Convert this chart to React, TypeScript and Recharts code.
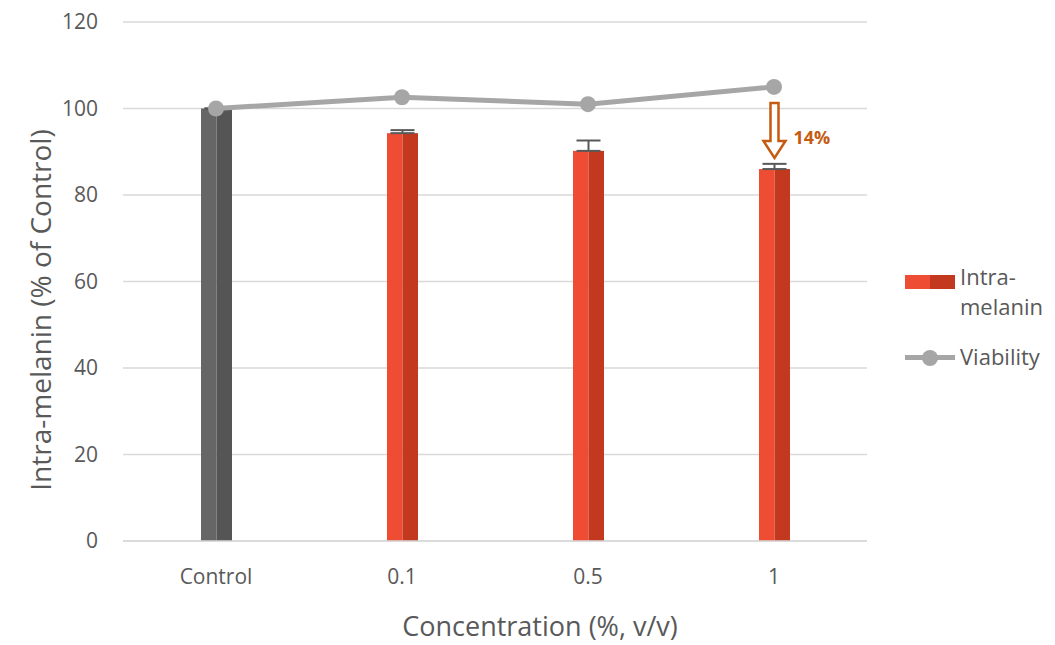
import {
    ComposedChart,
    Bar,
    Line,
    XAxis,
    YAxis,
    CartesianGrid,
    Legend,
    ErrorBar,
    LabelList,
} from "recharts";

// categories and values
const categories = ["Control", "0.1", "0.5", "1"];
const melanin = [100, 94.3, 90.2, 86.0];
const melaninErr = [0, 0.7, 2.4, 1.2];
const viability = [100, 102.6, 101.0, 105.0];
const notes = ["", "", "", "14%"];
const yTicks = [0, 20, 40, 60, 80, 100, 120];

const data = categories.map((name, i) => ({
    name,
    melanin: melanin[i],
    // only the upper whisker shows above the bar
    err: [0, melaninErr[i]],
    viability: viability[i],
    note: notes[i],
}));

const FONT = "'Open Sans', 'Noto Sans', sans-serif";
const TEXT = "#595959";
const ORANGE = "#c55a11";

// two-tone bar: light left half, darker right half
const TwoToneBar = (props: any) => {
    const { x, y, width, height, payload } = props;
    if (!height || height <= 0) return null;
    const isControl = payload && payload.name === "Control";
    const left = isControl ? "#666666" : "#ee4c33";
    const right = isControl ? "#555555" : "#c3391f";
    const half = width / 2;
    return (
        <g>
            <rect x={x} y={y} width={half} height={height} fill={left} />
            <rect x={x + half} y={y} width={width - half} height={height} fill={right} />
        </g>
    );
};

// hollow down arrow with percentage above the last bar
const ArrowNote = (props: any) => {
    const { x, y, width, value } = props;
    if (!value) return null;
    const cx = x + width / 2;
    const top = y - 66;
    const neck = y - 28;
    const tip = y - 11;
    const path = `M ${cx - 4} ${top} L ${cx + 4} ${top} L ${cx + 4} ${neck} L ${cx + 11} ${neck} L ${cx} ${tip} L ${cx - 11} ${neck} L ${cx - 4} ${neck} Z`;
    return (
        <g>
            <path d={path} fill="#ffffff" stroke={ORANGE} strokeWidth={2.5} strokeLinejoin="miter" />
            <text x={cx + 19} y={y - 25} fill={ORANGE} fontSize={18} fontWeight={700} fontFamily={FONT}>
                {value}
            </text>
        </g>
    );
};

const LegendBox = () => (
    <div style={{ fontFamily: FONT, color: TEXT, fontSize: 22, position: "relative", width: 150, height: 110 }}>
        <div style={{ position: "absolute", left: 0, top: 0, display: "flex" }}>
            <div style={{ width: 25, height: 14, background: "#ee4c33" }} />
            <div style={{ width: 25, height: 14, background: "#c3391f" }} />
        </div>
        <div style={{ position: "absolute", left: 55, top: -14, lineHeight: "30px" }}>
            Intra-
            <br />
            melanin
        </div>
        <div style={{ position: "absolute", left: 0, top: 80, width: 50, height: 5, background: "#a6a6a6" }} />
        <div
            style={{
                position: "absolute",
                left: 17,
                top: 74.5,
                width: 16,
                height: 16,
                borderRadius: 8,
                background: "#a6a6a6",
            }}
        />
        <div style={{ position: "absolute", left: 55, top: 66 }}>Viability</div>
    </div>
);

const YTitle = () => (
    <text
        x={40}
        y={310}
        transform="rotate(-90 40 310)"
        textAnchor="middle"
        dominantBaseline="central"
        fill={TEXT}
        fontSize={28}
        fontFamily={FONT}
    >
        Intra-melanin (% of Control)
    </text>
);

const XTitle = () => (
    <text x={540} y={625} textAnchor="middle" dominantBaseline="central" fill={TEXT} fontSize={27} fontFamily={FONT}>
        Concentration (%, v/v)
    </text>
);

export default function App() {
    return (
        <div style={{ position: "absolute", left: 0, top: 0, width: 1055, height: 645, background: "#fff" }}>
            <ComposedChart
                width={1055}
                height={645}
                data={data}
                margin={{ top: 22, right: 188, bottom: 34, left: 0 }}
                barSize={31}
            >
                <CartesianGrid vertical={false} stroke="#d9d9d9" strokeWidth={1.5} />
                <XAxis
                    dataKey="name"
                    height={70}
                    axisLine={{ stroke: "#d9d9d9", strokeWidth: 1.5 }}
                    tickLine={false}
                    tickMargin={22}
                    tick={{ fill: TEXT, fontSize: 21, fontFamily: FONT }}
                    label={<XTitle />}
                />
                <YAxis
                    width={123}
                    domain={[0, 120]}
                    ticks={yTicks}
                    axisLine={false}
                    tickLine={false}
                    tickSize={0}
                    tickMargin={25}
                    tick={{ fill: TEXT, fontSize: 21, fontFamily: FONT }}
                    label={<YTitle />}
                />
                <Legend
                    layout="vertical"
                    align="center"
                    verticalAlign="middle"
                    content={() => <LegendBox />}
                    wrapperStyle={{ left: 905, top: 275, width: 150, height: 110 }}
                />
                <Bar dataKey="melanin" name="Intra-melanin" shape={<TwoToneBar />} isAnimationActive={false}>
                    <ErrorBar dataKey="err" direction="y" width={12} stroke="#595959" strokeWidth={2} />
                    <LabelList dataKey="note" content={<ArrowNote />} />
                </Bar>
                <Line
                    dataKey="viability"
                    name="Viability"
                    stroke="#a6a6a6"
                    strokeWidth={5}
                    dot={{ r: 8, fill: "#a6a6a6", stroke: "none" }}
                    isAnimationActive={false}
                />
            </ComposedChart>
        </div>
    );
}
